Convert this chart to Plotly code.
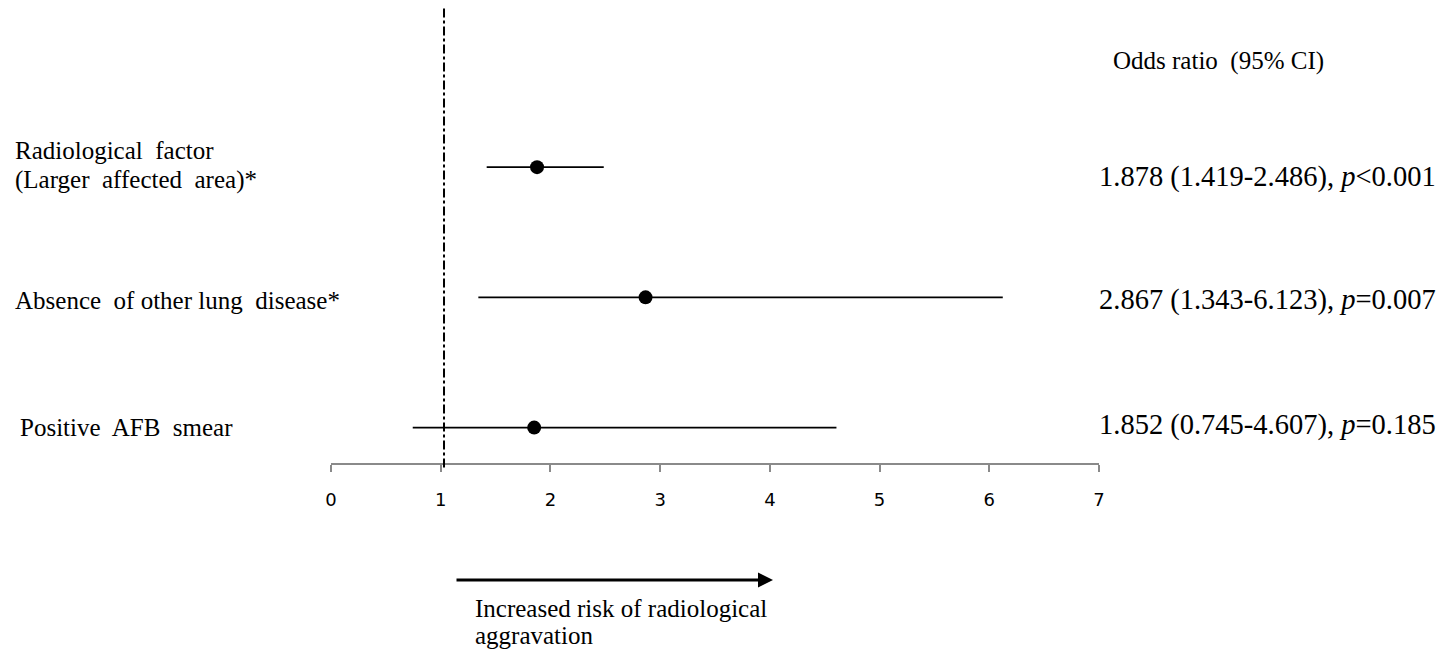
import plotly.graph_objects as go

# ---- data ----
factors = ["Radiological factor (Larger affected area)*", "Absence of other lung disease*", "Positive AFB smear"]
odds_ratio = [1.878, 2.867, 1.852]
ci_low = [1.419, 1.343, 0.745]
ci_high = [2.486, 6.123, 4.607]
p_text = ["<i>p</i><0.001", "<i>p</i>=0.007", "<i>p</i>=0.185"]
row_pos = [3, 2, 1]
x_ticks = [0, 1, 2, 3, 4, 5, 6, 7]
ref_value = 1.03

W, H = 1449, 651
OFF = 8  # page body margin
L, R = 331 - OFF, 1099 - OFF
B_PX = 463 - OFF

def px_x(px):
    return (px - OFF - L) / (R - L)

def px_y(py):
    return (B_PX - (py - OFF)) / B_PX

SERIF = "Liberation Serif, Times New Roman, serif"
FS = 25

fig = go.Figure()
fig.add_trace(go.Scatter(
    x=odds_ratio, y=row_pos, mode="markers",
    marker=dict(color="black", size=14, symbol="circle"),
    error_x=dict(type="data", symmetric=False,
                 array=[h - o for h, o in zip(ci_high, odds_ratio)],
                 arrayminus=[o - l for o, l in zip(odds_ratio, ci_low)],
                 color="black", thickness=1.6, width=0),
    showlegend=False, hoverinfo="skip",
))

fig.add_shape(type="line", xref="x", yref="paper", x0=ref_value, x1=ref_value,
              y0=-0.01, y1=1.02, line=dict(color="black", width=2, dash="dashdot"))

annotations = []
# left labels
annotations.append(dict(text="Radiological  factor", x=px_x(13), y=px_y(150)))
annotations.append(dict(text="(Larger  affected  area)*", x=px_x(13), y=px_y(180)))
annotations.append(dict(text="Absence  of other lung  disease*", x=px_x(13), y=px_y(300)))
annotations.append(dict(text="Positive  AFB  smear", x=px_x(18), y=px_y(427)))
# right column
annotations.append(dict(text="Odds ratio  (95% CI)", x=px_x(1111), y=px_y(61)))
right_y = [177, 300, 425]
for o, l, h, p, ry in zip(odds_ratio, ci_low, ci_high, p_text, right_y):
    annotations.append(dict(text=f"{o:.3f} ({l:.3f}-{h:.3f}), {p}", x=px_x(1097), y=px_y(ry), size=28.5))
# arrow caption
annotations.append(dict(text="Increased risk of radiological", x=px_x(473), y=px_y(608)))
annotations.append(dict(text="aggravation", x=px_x(473), y=px_y(635)))

for a in annotations:
    fig.add_annotation(text=a["text"], x=a["x"], y=a["y"], xref="paper", yref="paper",
                       xanchor="left", yanchor="middle", showarrow=False,
                       font=dict(family=SERIF, size=a.get("size", FS), color="black"))

# arrow
fig.add_annotation(x=px_x(773), y=px_y(580), ax=455 - 773, ay=0,
                   xref="paper", yref="paper", axref="pixel", ayref="pixel",
                   showarrow=True, arrowhead=2, arrowsize=1, arrowwidth=3,
                   arrowcolor="black", text="")

fig.update_layout(
    width=W, height=H,
    margin=dict(l=L, r=W - R, t=0, b=H - B_PX),
    paper_bgcolor="white", plot_bgcolor="white",
    xaxis=dict(range=[0, 7], tickvals=x_ticks, ticktext=[str(t) for t in x_ticks],
               showgrid=False, zeroline=False, showline=True, linecolor="#8a8a8a",
               linewidth=2, ticks="outside", ticklen=7, tickcolor="#8a8a8a", tickwidth=2,
               ticklabelstandoff=12,
               tickfont=dict(family="DejaVu Sans, Verdana, sans-serif", size=18, color="black")),
    yaxis=dict(range=[0.728, 4.222], visible=False, showgrid=False, zeroline=False),
)

fig.write_html("out.html")
